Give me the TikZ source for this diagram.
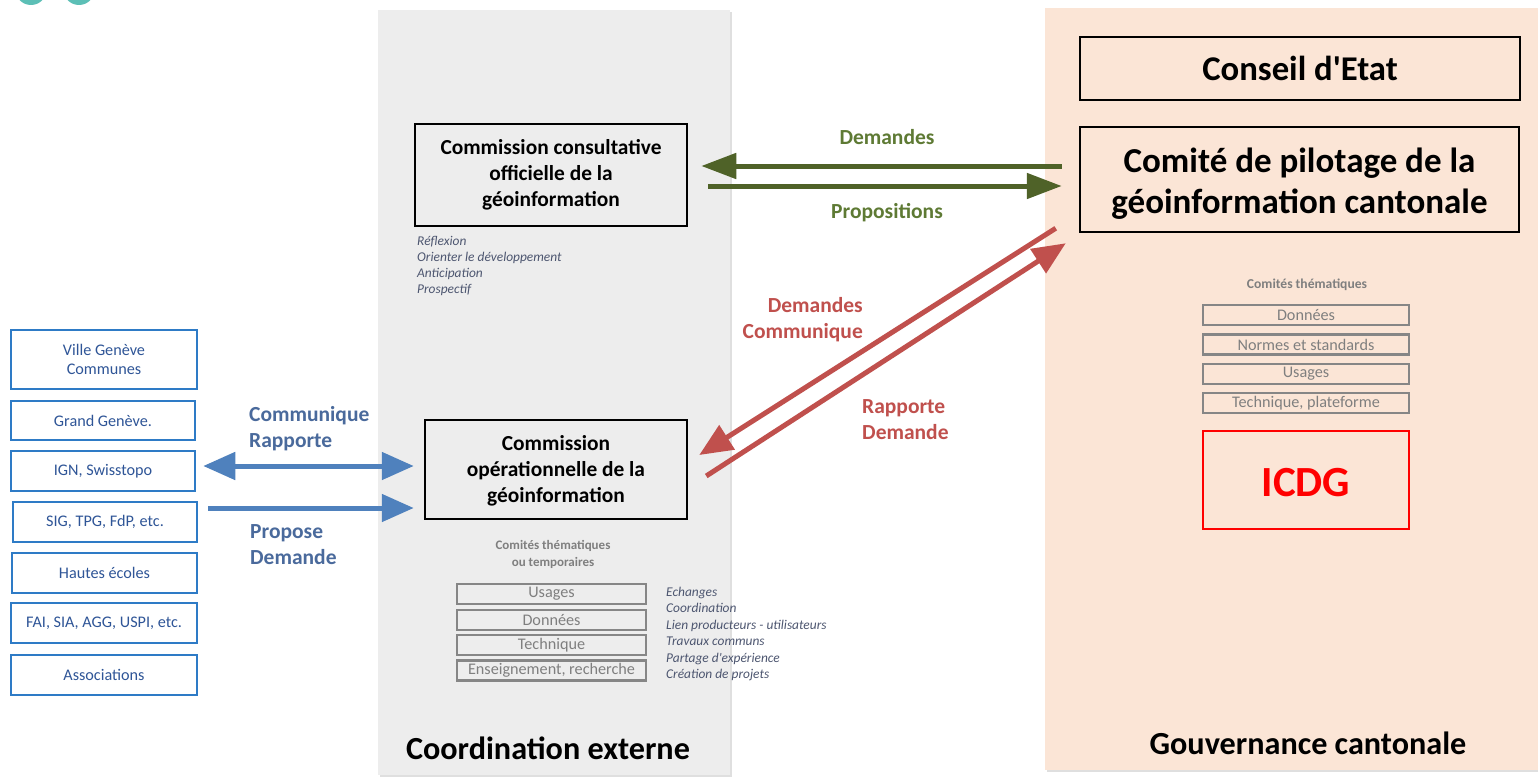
\documentclass[tikz,border=0pt]{standalone}
\usepackage{fontspec}
\setmainfont{Carlito}[Ligatures=TeXOff]
\usetikzlibrary{arrows.meta,shadows}
\definecolor{panelgray}{HTML}{EDEDED}
\definecolor{peach}{HTML}{FBE5D6}
\definecolor{teal}{HTML}{5CBFB6}
\definecolor{bborder}{HTML}{2E7BC6}
\definecolor{btext}{HTML}{2F5597}
\definecolor{barrowc}{HTML}{4F81BD}
\definecolor{blabel}{HTML}{4A6A9C}
\definecolor{garrowc}{HTML}{4F6228}
\definecolor{glabel}{HTML}{5E7A34}
\definecolor{rarrowc}{HTML}{C0504D}
\definecolor{graytext}{HTML}{7F7F7F}
\definecolor{itext}{HTML}{4D5670}
\definecolor{icdgred}{HTML}{FF0000}
\tikzset{
  bigbox/.style={draw=black, line width=2.5pt, align=center, inner sep=0pt, font=\bfseries\fontsize{21.4}{26}\selectfont},
  subbox/.style={draw=gray!95, line width=2.5pt, inner sep=0pt, text=graytext, font=\fontsize{16.2}{18}\selectfont},
  bluebox/.style={draw=bborder, line width=2.5pt, inner sep=0pt, align=center, minimum width=186pt, text=btext, font=\fontsize{16.2}{19}\selectfont},
  barrow/.style={draw=barrowc, line width=5pt, -{Triangle[length=32pt,width=27pt]}},
  barrowboth/.style={draw=barrowc, line width=5pt, {Triangle[length=32pt,width=27pt]}-{Triangle[length=32pt,width=27pt]}},
  garrow/.style={draw=garrowc, line width=5pt, -{Triangle[length=35pt,width=25pt]}},
  rarrow/.style={draw=rarrowc, line width=5pt, -{Triangle[length=33pt,width=28pt]}},
  lbl/.style={inner sep=0pt, font=\bfseries\fontsize{21.5}{26}\selectfont},
  itlbl/.style={inner sep=0pt, align=left, text=itext, font=\itshape\fontsize{13.4}{16}\selectfont},
  paneltitle/.style={inner sep=0pt, font=\bfseries\fontsize{32.2}{36}\selectfont}
}
\begin{document}
\begin{tikzpicture}[x=1pt,y=-1pt]
\useasboundingbox (0,0) rectangle (1538,776);
\fill[white] (0,0) rectangle (1538,776);
% top-left circles
\fill[teal] (31,-10.7) circle (15.7);
\fill[teal] (79,-10.7) circle (15.7);
% panels
\fill[panelgray, drop shadow={shadow xshift=2pt, shadow yshift=-2pt, opacity=.25}] (378,10) rectangle (730,775);
\fill[peach, drop shadow={shadow xshift=2pt, shadow yshift=-2pt, opacity=.25}] (1045,8) rectangle (1538,770);

% middle panel
\node[bigbox, minimum width=272pt, minimum height=102pt] (cc) at (551,175) {Commission consultative\\officielle de la\\géoinformation};
\node[itlbl, anchor=west] (ccnote) at (417,266) {Réflexion\\Orienter le développement\\Anticipation\\Prospectif};
\node[bigbox, minimum width=262pt, minimum height=99pt] (co) at (556,469.5) {};
\node[inner sep=0pt, align=center, font=\bfseries\fontsize{21.4}{26}\selectfont] (cot) at (556,471) {Commission\\opérationnelle de la\\géoinformation};
\node[inner sep=0pt, align=center, text=graytext, font=\bfseries\fontsize{13}{17}\selectfont] (ctt) at (553,554.5) {Comités thématiques\\ou temporaires};
\node[subbox, minimum width=189pt, minimum height=20pt] (s1) at (551.5,594) {Usages};
\node[subbox, minimum width=189pt, minimum height=20pt] (s2) at (551.5,620) {Données};
\node[subbox, minimum width=189pt, minimum height=20pt] (s3) at (551.5,645) {Technique};
\node[subbox, minimum width=189pt, minimum height=20pt] (s4) at (551.5,670.5) {Enseignement, recherche};
\node[itlbl, anchor=west, font=\itshape\fontsize{13.4}{16.4}\selectfont] (conote) at (666,634) {Echanges\\Coordination\\Lien producteurs - utilisateurs\\Travaux communs\\Partage d'expérience\\Création de projets};
\node[paneltitle] (t1) at (548,748) {Coordination externe};

% right panel
\node[bigbox, minimum width=440pt, minimum height=63pt, font=\bfseries\fontsize{34.7}{40}\selectfont] (ce) at (1300,68.5) {Conseil d'Etat};
\node[bigbox, minimum width=439pt, minimum height=105pt] (cp) at (1299.5,179.5) {};
\node[inner sep=0pt, align=center, font=\bfseries\fontsize{35}{41}\selectfont] (cpt) at (1299.5,183.5) {Comité de pilotage de la\\géoinformation cantonale};
\node[inner sep=0pt, text=graytext, font=\bfseries\fontsize{13.6}{17}\selectfont] (rtt) at (1307,285) {Comités thématiques};
\node[subbox, minimum width=206pt, minimum height=20pt] (r1) at (1306,315) {Données};
\node[subbox, minimum width=206pt, minimum height=20pt] (r2) at (1306,344.5) {Normes et standards};
\node[subbox, minimum width=206pt, minimum height=20pt] (r3) at (1306,374) {Usages};
\node[subbox, minimum width=206pt, minimum height=20pt] (r4) at (1306,403) {Technique, plateforme};
\node[draw=icdgred, line width=2pt, minimum width=206pt, minimum height=98pt, inner sep=0pt] (icdg) at (1306,480) {};
\node[inner sep=0pt, text=icdgred, font=\bfseries\fontsize{43}{46}\selectfont] (icdgt) at (1306,483) {ICDG};
\node[paneltitle] (t2) at (1308,743) {Gouvernance cantonale};

% left boxes
\node[bluebox, minimum height=59pt] (l1) at (104,359.5) {Ville Genève\\Communes};
\node[bluebox, minimum height=39pt, minimum width=184pt] (l2) at (103,420.5) {Grand Genève.};
\node[bluebox, minimum height=40pt, minimum width=184pt] (l3) at (103,471) {IGN, Swisstopo};
\node[bluebox, minimum height=40pt, minimum width=184pt] (l4) at (105,522) {SIG, TPG, FdP, etc.};
\node[bluebox, minimum height=40pt, minimum width=185pt] (l5) at (104.5,573) {Hautes écoles};
\node[bluebox, minimum height=40pt] (l6) at (104,623) {FAI, SIA, AGG, USPI, etc.};
\node[bluebox, minimum height=40pt] (l7) at (104,675) {Associations};

% blue arrows
\draw[barrowboth] ([xshift=7pt,yshift=5pt]l3.east) -- ([xshift=-10pt,yshift=3.5pt]co.west);
\draw[barrow] ([xshift=10pt,yshift=14pt]l4.east) -- ([xshift=-10pt,yshift=-38.5pt]co.west);
\node[lbl, text=blabel, align=left, anchor=west] (bl1) at (249,429) {Communique\\Rapporte};
\node[lbl, text=blabel, align=left, anchor=west] (bl2) at (250,544.5) {Propose\\Demande};

% green arrows
\draw[garrow] ([xshift=-17pt,yshift=13.5pt]cp.west) -- ([xshift=13pt,yshift=9pt]cc.east);
\draw[garrow] ([xshift=20pt,yshift=-11pt]cc.east) -- ([xshift=-17pt,yshift=-6.5pt]cp.west);
\node[lbl, text=glabel] (gl1) at (887,137) {Demandes};
\node[lbl, text=glabel] (gl2) at (887,213) {Propositions};

% red arrows
\draw[rarrow] ([xshift=-23pt,yshift=5pt]cp.south west) -- ([xshift=11pt,yshift=14.5pt]co.east);
\draw[rarrow] ([xshift=18pt,yshift=-6.5pt]co.east) -- ([xshift=-13pt,yshift=-10pt]cp.south west);
\node[lbl, text=rarrowc, align=right, anchor=east] (rl1) at (863,320) {Demandes\\Communique};
\node[lbl, text=rarrowc, align=left, anchor=west] (rl2) at (862,420) {Rapporte\\Demande};
\end{tikzpicture}
\end{document}
